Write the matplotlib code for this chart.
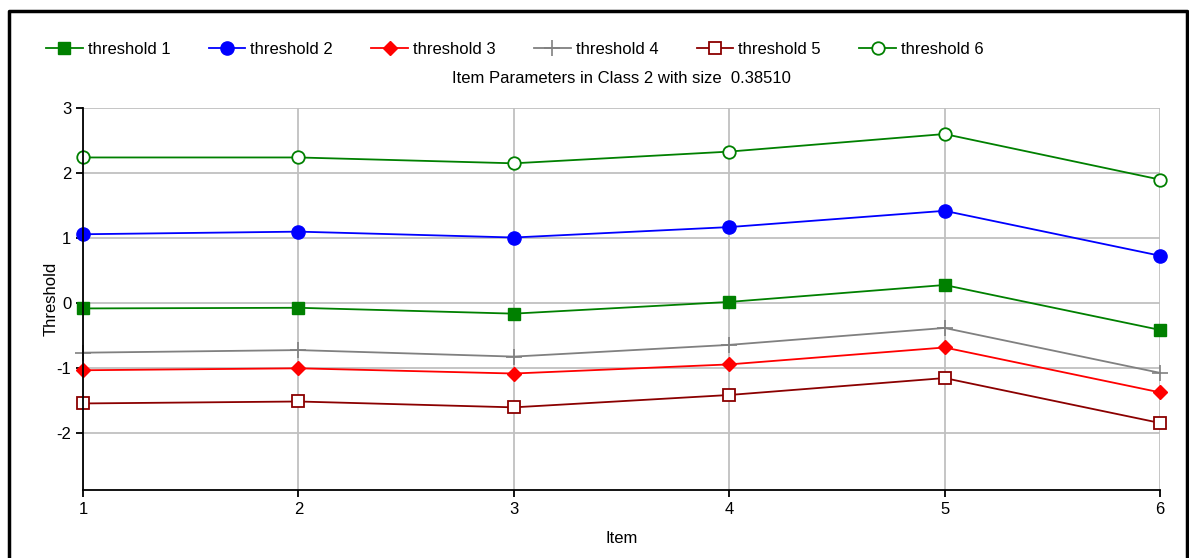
import numpy as np
import matplotlib.pyplot as plt
from matplotlib.lines import Line2D

plt.rcParams['font.family'] = ['Liberation Sans', 'DejaVu Sans']
plt.rcParams['font.size'] = 12
plt.rcParams['axes.unicode_minus'] = False

# Data
items = [1, 2, 3, 4, 5, 6]
thr1 = [-0.08, -0.07, -0.16, 0.02, 0.28, -0.41]
thr2 = [1.06, 1.10, 1.01, 1.17, 1.42, 0.73]
thr3 = [-1.03, -1.00, -1.08, -0.94, -0.68, -1.37]
thr4 = [-0.76, -0.72, -0.82, -0.64, -0.38, -1.07]
thr5 = [-1.54, -1.51, -1.60, -1.41, -1.15, -1.84]
thr6 = [2.24, 2.24, 2.15, 2.33, 2.60, 1.90]
labels = ['threshold 1', 'threshold 2', 'threshold 3', 'threshold 4', 'threshold 5', 'threshold 6']
title = 'Item Parameters in Class 2 with size  0.38510'

W, H = 1189, 558
fig = plt.figure(figsize=(W / 100, H / 100), dpi=100)
ax = fig.add_axes([83 / W, 1 - 490 / H, (1160 - 83) / W, (490 - 108) / H])

ax.plot(items, thr1, '-', color='green', marker='s', ms=8.5, mfc='green', mec='green', lw=1.3)
ax.plot(items, thr2, '-', color='blue', marker='o', ms=9.5, mfc='blue', mec='blue', lw=1.3)
ax.plot(items, thr3, '-', color='red', marker='D', ms=7, mfc='red', mec='red', lw=1.3)
ax.plot(items, thr4, '-', color='gray', marker='+', ms=11, mew=1.2, lw=1.3)
ax.plot(items, thr5, '-', color='darkred', marker='s', ms=8.5, mfc='white', mec='darkred', mew=1.3, lw=1.3)
ax.plot(items, thr6, '-', color='green', marker='o', ms=9, mfc='white', mec='green', mew=1.3, lw=1.3)

ax.set_xlim(1, 6)
ax.set_ylim(-2.87, 3)
ax.set_xticks(items)
ax.set_yticks([-2, -1, 0, 1, 2, 3])
ax.grid(True, color='#c0c0c0', lw=1.3)
ax.set_axisbelow(True)
for s in ['top', 'right']:
    ax.spines[s].set_visible(False)
ax.spines['left'].set_linewidth(1.3)
ax.spines['bottom'].set_linewidth(1.3)
ax.tick_params(direction='out', length=5, width=1.3, colors='black', labelsize=12)
for c in ax.get_children():
    if isinstance(c, Line2D):
        c.set_clip_on(False)

ax.set_xlabel('Item', labelpad=10)
ax.set_ylabel('Threshold', labelpad=-2)
ax.set_title(title, pad=18, fontsize=12)

fig.legend(ax.get_lines(), labels, loc='center left', bbox_to_anchor=(46 / W, 1 - 49 / H),
           ncol=6, frameon=False, handlelength=2.2, handletextpad=0.3, columnspacing=2.3,
           borderaxespad=0, borderpad=0)

# outer frame (no bottom edge)
fig.add_artist(Line2D([9 / W, 9 / W, 1187 / W, 1187 / W], [0, 1 - 11 / H, 1 - 11 / H, 0],
                      transform=fig.transFigure, color='black', lw=2.5))

fig.savefig('out.png', dpi=100)
